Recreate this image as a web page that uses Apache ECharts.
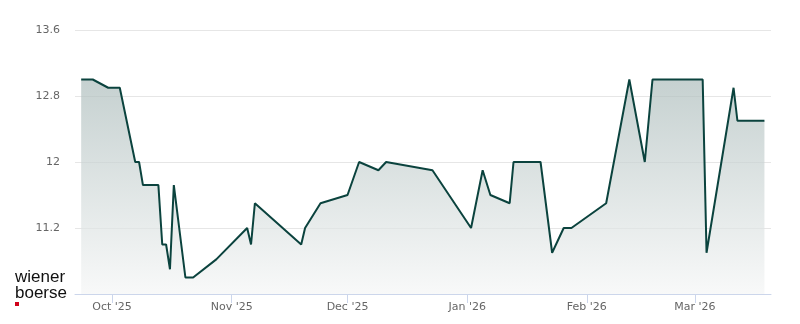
<!DOCTYPE html>
<html><head><meta charset="utf-8">
<script src="https://cdn.jsdelivr.net/npm/echarts@6/dist/echarts.min.js"></script>
<style>html,body{margin:0;padding:0;background:#fff}#c{width:800px;height:324px}</style>
</head><body><div id="c"></div>
<script>
const dates = ['2025-09-23','2025-09-26','2025-09-30','2025-10-03','2025-10-07','2025-10-08','2025-10-09','2025-10-13','2025-10-14','2025-10-15','2025-10-16','2025-10-17','2025-10-20','2025-10-22','2025-10-28','2025-11-05','2025-11-06','2025-11-07','2025-11-19','2025-11-20','2025-11-24','2025-12-01','2025-12-04','2025-12-09','2025-12-11','2025-12-23','2026-01-02','2026-01-05','2026-01-07','2026-01-12','2026-01-13','2026-01-20','2026-01-23','2026-01-26','2026-01-28','2026-02-06','2026-02-12','2026-02-16','2026-02-18','2026-03-03','2026-03-04','2026-03-11','2026-03-12','2026-03-19'];
const prices = [13.0,13.0,12.9,12.9,12.0,12.0,11.72,11.72,11.0,11.0,10.7,11.72,10.6,10.6,10.82,11.2,11.0,11.5,11.0,11.2,11.5,11.6,12.0,11.9,12.0,11.9,11.2,11.9,11.6,11.5,12.0,12.0,10.9,11.2,11.2,11.5,13.0,12.0,13.0,13.0,10.9,12.9,12.5,12.5];
const yMin = 10.4, yMax = 13.6, yStep = 0.8;
const monthNames = ['Jan','Feb','Mar','Apr','May','Jun','Jul','Aug','Sep','Oct','Nov','Dec'];

const DAY = 86400000;
const oct1 = new Date(2025, 9, 1).getTime();
const chart = echarts.init(document.getElementById('c'), null, {renderer: 'canvas'});
const FONT = 'DejaVu Sans';
chart.setOption({
  animation: false,
  backgroundColor: '#ffffff',
  grid: {left: 75, right: 29, top: 30, bottom: 30},
  xAxis: {
    type: 'time',
    min: oct1 - 9.6 * DAY,
    max: oct1 + 170.7 * DAY,
    splitNumber: 6,
    axisLine: {lineStyle: {color: '#ccd6eb', width: 1}},
    axisTick: {show: true, length: 9, lineStyle: {color: '#ccd6eb'}},
    splitLine: {show: false},
    axisLabel: {
      color: '#666666', fontSize: 11, fontFamily: FONT, margin: 8,
      showMinLabel: false, showMaxLabel: false,
      formatter: function (v) {
        const d = new Date(v);
        if (d.getDate() !== 1) return '';
        return monthNames[d.getMonth()] + " '" + String(d.getFullYear()).slice(2);
      }
    }
  },
  yAxis: {
    type: 'value',
    min: yMin, max: yMax, interval: yStep,
    axisLine: {show: false},
    axisTick: {show: false},
    splitLine: {lineStyle: {color: '#e6e6e6', width: 1}},
    axisLabel: {
      color: '#666666', fontSize: 11, fontFamily: FONT, margin: 15,
      formatter: function (v) {
        if (Math.abs(v - yMin) < 1e-6) return '';
        return String(Number(v.toFixed(1)));
      }
    }
  },
  series: [{
    type: 'line',
    data: dates.map((d, i) => [d, prices[i]]),
    showSymbol: false,
    lineStyle: {color: '#0b433e', width: 2},
    itemStyle: {color: '#0b433e'},
    areaStyle: {
      color: new echarts.graphic.LinearGradient(0, 0, 0, 1, [
        {offset: 0, color: '#adbdbc'},
        {offset: 1, color: '#f5f6f6'}
      ])
    }
  }],
  graphic: [
    {type: 'text', left: 15, top: 269, style: {text: 'wiener', fontSize: 17, fontFamily: 'Liberation Sans', fill: '#111111'}},
    {type: 'text', left: 15, top: 285, style: {text: 'boerse', fontSize: 17, fontFamily: 'Liberation Sans', fill: '#111111'}},
    {type: 'rect', left: 15, top: 302, shape: {width: 4, height: 4}, style: {fill: '#d0021b'}}
  ]
});
</script></body></html>
